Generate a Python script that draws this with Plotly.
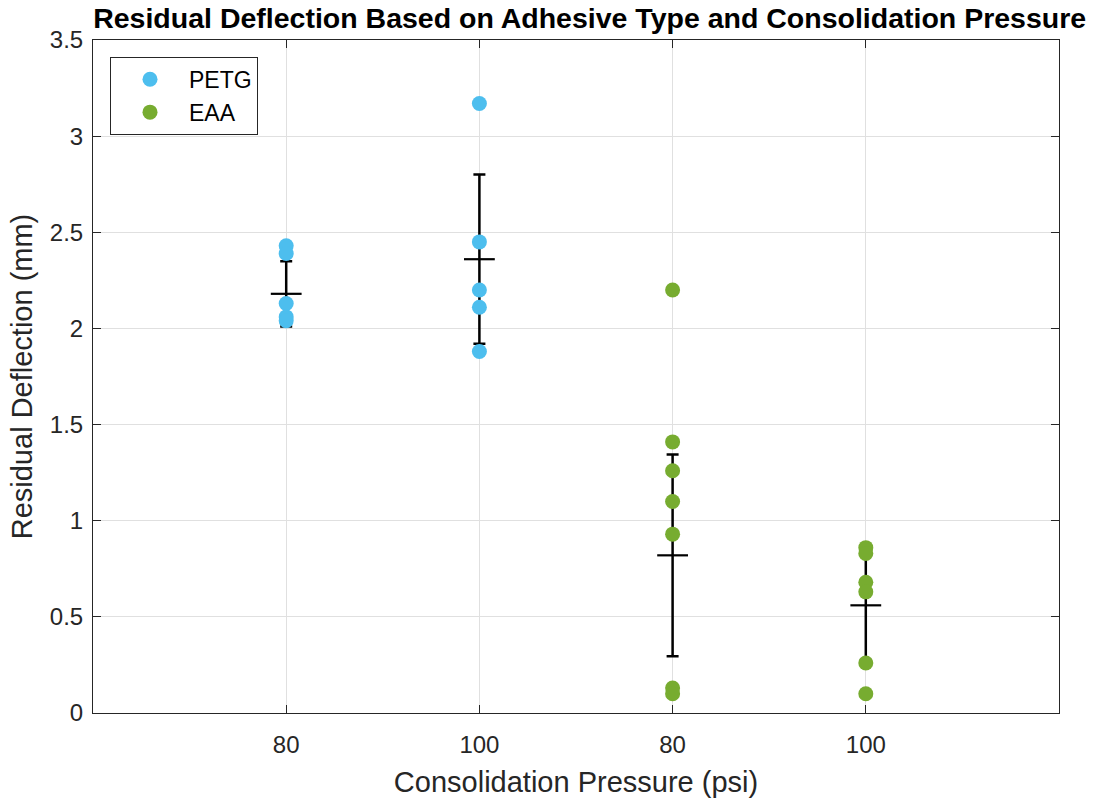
import plotly.graph_objects as go

# Data
tick_labels = ["80", "100", "80", "100"]
petg_x = [1, 1, 1, 1, 1, 2, 2, 2, 2, 2]
petg_y = [2.43, 2.39, 2.13, 2.06, 2.04, 3.17, 2.45, 2.20, 2.11, 1.88]
eaa_x = [3, 3, 3, 3, 3, 3, 3, 4, 4, 4, 4, 4, 4]
eaa_y = [2.20, 1.41, 1.26, 1.10, 0.93, 0.13, 0.10, 0.86, 0.83, 0.68, 0.63, 0.26, 0.10]
mean_x = [1, 2, 3, 4]
mean_y = [2.18, 2.36, 0.82, 0.56]
std_y = [0.17, 0.44, 0.525, 0.285]
y_ticks = [0, 0.5, 1, 1.5, 2, 2.5, 3, 3.5]

blue = "#4DBEEE"
green = "#77AC30"
font_family = "Liberation Sans, Arial, sans-serif"

fig = go.Figure()
fig.add_trace(go.Scatter(
    x=mean_x, y=mean_y, mode="markers", showlegend=False,
    marker=dict(symbol="line-ew", size=22, line=dict(color="black", width=2.2), color="black"),
    error_y=dict(type="data", array=std_y, visible=True, color="black", thickness=2.5, width=6),
    hoverinfo="skip",
))
fig.add_trace(go.Scatter(
    x=petg_x, y=petg_y, mode="markers", name="PETG",
    marker=dict(color=blue, size=15, line=dict(width=0)),
))
fig.add_trace(go.Scatter(
    x=eaa_x, y=eaa_y, mode="markers", name="EAA",
    marker=dict(color=green, size=15, line=dict(width=0)),
))

fig.update_layout(
    width=1094, height=799,
    margin=dict(l=93, r=35, t=40, b=86),
    paper_bgcolor="white", plot_bgcolor="white",
    font=dict(family=font_family, color="#262626", size=24),
    title=dict(text="<b>Residual Deflection Based on Adhesive Type and Consolidation Pressure</b>",
               x=0.539, xanchor="center", y=0.977, yanchor="middle",
               font=dict(family=font_family, size=28.5, color="black")),
    xaxis=dict(range=[0, 5], tickvals=mean_x, ticktext=tick_labels,
               showgrid=True, gridcolor="#e0e0e0", gridwidth=1,
               showline=True, linecolor="#262626", linewidth=1, mirror="ticks",
               ticks="inside", ticklen=8, tickcolor="#262626", automargin=False,
               zeroline=False, tickfont=dict(size=24), ticklabelstandoff=10,
               title=dict(text="Consolidation Pressure (psi)", font=dict(size=29), standoff=14)),
    yaxis=dict(range=[0, 3.5], tickvals=y_ticks, ticktext=[f"{v:g}" for v in y_ticks],
               showgrid=True, gridcolor="#e0e0e0", gridwidth=1,
               showline=True, linecolor="#262626", linewidth=1, mirror="ticks",
               ticks="inside", ticklen=8, tickcolor="#262626", automargin=False,
               zeroline=False, tickfont=dict(size=24), ticklabelstandoff=4,
               title=dict(text="Residual Deflection (mm)", font=dict(size=29), standoff=8)),
    legend=dict(x=0.0176, y=0.975, xanchor="left", yanchor="top",
                bgcolor="white", bordercolor="#262626", borderwidth=1,
                font=dict(size=23, color="black"), itemwidth=68, tracegroupgap=0),
    showlegend=True,
)

fig.write_html("out.html")
